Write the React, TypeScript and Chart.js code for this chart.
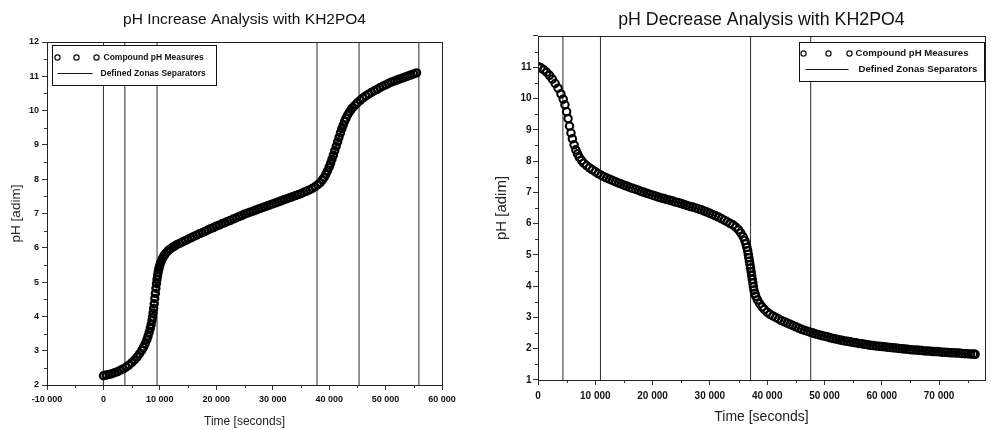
import { useEffect, useRef } from 'react';
import { Chart, registerables } from 'chart.js';

Chart.register(...registerables);

// ---------- data: pH increase (left) ----------
const incTime = [
  0, 500, 1000, 1500, 2000, 2500, 3000, 3500, 4000, 4500, 5000, 5500, 6000, 6400, 6800, 7100, 7400, 7700, 7900, 8100,
  8300, 8450, 8600, 8700, 8800, 8900, 9000, 9100, 9200, 9300, 9400, 9500, 9600, 9700, 9800, 9900, 10000, 10150, 10300, 10500,
  10700, 10900, 11200, 11500, 11800, 12200, 12600, 13000, 13500, 14000, 14500, 15000, 15500, 16000, 16500, 17000, 17500, 18000, 18500, 19000,
  19500, 20000, 20500, 21000, 21500, 22000, 22500, 23000, 23500, 24000, 24500, 25000, 25500, 26000, 26500, 27000, 27500, 28000, 28500, 29000,
  29500, 30000, 30500, 31000, 31500, 32000, 32500, 33000, 33500, 34000, 34500, 35000, 35500, 36000, 36500, 37000, 37500, 38000, 38400, 38800,
  39100, 39400, 39700, 40000, 40250, 40500, 40750, 41000, 41250, 41500, 41750, 42000, 42250, 42500, 42750, 43000, 43300, 43600, 43900, 44200,
  44600, 45000, 45500, 46000, 46500, 47000, 47500, 48000, 48500, 49000, 49500, 50000, 50500, 51000, 51500, 52000, 52500, 53000, 53500, 54000,
  54500, 55000, 55500,
];
const incPH = [
  2.27, 2.29, 2.31, 2.33, 2.36, 2.39, 2.43, 2.47, 2.52, 2.58, 2.65, 2.73, 2.82, 2.91, 3.01, 3.10, 3.20, 3.32, 3.42, 3.53,
  3.65, 3.76, 3.88, 3.98, 4.10, 4.23, 4.37, 4.52, 4.67, 4.82, 4.96, 5.08, 5.19, 5.29, 5.37, 5.44, 5.50, 5.57, 5.63, 5.70,
  5.76, 5.81, 5.87, 5.92, 5.96, 6.01, 6.05, 6.09, 6.13, 6.17, 6.21, 6.25, 6.29, 6.33, 6.37, 6.41, 6.44, 6.48, 6.52, 6.56,
  6.59, 6.63, 6.66, 6.70, 6.73, 6.77, 6.80, 6.84, 6.87, 6.91, 6.94, 6.98, 7.01, 7.04, 7.07, 7.10, 7.13, 7.16, 7.19, 7.22,
  7.25, 7.28, 7.31, 7.34, 7.37, 7.40, 7.43, 7.46, 7.49, 7.52, 7.55, 7.58, 7.62, 7.65, 7.69, 7.73, 7.78, 7.84, 7.90, 7.98,
  8.05, 8.14, 8.24, 8.35, 8.46, 8.58, 8.70, 8.83, 8.96, 9.09, 9.22, 9.35, 9.47, 9.58, 9.69, 9.78, 9.88, 9.96, 10.03, 10.09,
  10.16, 10.23, 10.30, 10.37, 10.43, 10.48, 10.53, 10.58, 10.62, 10.67, 10.71, 10.75, 10.79, 10.83, 10.86, 10.89, 10.92, 10.95, 10.98, 11.01,
  11.04, 11.07, 11.10,
];
const incSeparators = [0, 3800, 9500, 37850, 45300, 55900];
const incXTicks = [-10000, 0, 10000, 20000, 30000, 40000, 50000, 60000];
const incYTicks = [2, 3, 4, 5, 6, 7, 8, 9, 10, 11, 12];

// ---------- data: pH decrease (right) ----------
const decTime = [
  0, 500, 1000, 1500, 2000, 2500, 3000, 3500, 4000, 4400, 4700, 5000, 5250, 5500, 5750, 6000, 6300, 6600, 6900, 7200,
  7600, 8000, 8500, 9000, 9500, 10000, 10500, 11000, 11500, 12000, 12500, 13000, 13500, 14000, 14500, 15000, 15500, 16000, 16500, 17000,
  17500, 18000, 18500, 19000, 19500, 20000, 20500, 21000, 21500, 22000, 22500, 23000, 23500, 24000, 24500, 25000, 25500, 26000, 26500, 27000,
  27500, 28000, 28500, 29000, 29500, 30000, 30500, 31000, 31500, 32000, 32500, 33000, 33500, 34000, 34500, 35000, 35400, 35800, 36100, 36300,
  36450, 36600, 36700, 36800, 36900, 37000, 37100, 37200, 37300, 37400, 37500, 37600, 37700, 37850, 38000, 38300, 38700, 39100, 39500, 40000,
  40500, 41000, 41500, 42000, 42500, 43000, 43500, 44000, 44500, 45000, 45500, 46000, 46500, 47000, 47500, 48000, 48500, 49000, 49500, 50000,
  50500, 51000, 51500, 52000, 52500, 53000, 53500, 54000, 54500, 55000, 55500, 56000, 56500, 57000, 57500, 58000, 58500, 59000, 59500, 60000,
  60500, 61000, 61500, 62000, 62500, 63000, 63500, 64000, 64500, 65000, 65500, 66000, 66500, 67000, 67500, 68000, 68500, 69000, 69500, 70000,
  70500, 71000, 71500, 72000, 72500, 73000, 73500, 74000, 74500, 75000, 75500, 76000, 76300,
];
const decPH = [
  11.02, 10.98, 10.92, 10.84, 10.74, 10.62, 10.48, 10.33, 10.15, 9.98, 9.80, 9.58, 9.36, 9.12, 8.90, 8.71, 8.52, 8.36, 8.23, 8.12,
  8.02, 7.93, 7.85, 7.78, 7.72, 7.66, 7.60, 7.55, 7.50, 7.46, 7.42, 7.38, 7.34, 7.30, 7.27, 7.23, 7.20, 7.16, 7.13, 7.10,
  7.07, 7.03, 7.00, 6.97, 6.94, 6.91, 6.88, 6.85, 6.82, 6.80, 6.77, 6.75, 6.72, 6.69, 6.67, 6.64, 6.61, 6.58, 6.55, 6.53,
  6.50, 6.47, 6.44, 6.40, 6.37, 6.33, 6.29, 6.25, 6.21, 6.16, 6.11, 6.06, 6.01, 5.96, 5.89, 5.80, 5.70, 5.58, 5.46, 5.35,
  5.24, 5.13, 5.02, 4.91, 4.80, 4.69, 4.58, 4.46, 4.34, 4.22, 4.10, 3.98, 3.87, 3.77, 3.68, 3.56, 3.44, 3.34, 3.26, 3.17,
  3.10, 3.05, 3.00, 2.95, 2.90, 2.86, 2.82, 2.78, 2.74, 2.70, 2.66, 2.62, 2.59, 2.56, 2.53, 2.50, 2.47, 2.45, 2.42, 2.40,
  2.38, 2.35, 2.33, 2.31, 2.29, 2.27, 2.25, 2.24, 2.22, 2.20, 2.19, 2.17, 2.16, 2.14, 2.13, 2.11, 2.10, 2.09, 2.08, 2.07,
  2.06, 2.05, 2.04, 2.03, 2.02, 2.01, 2.00, 1.99, 1.98, 1.97, 1.96, 1.96, 1.95, 1.94, 1.93, 1.93, 1.92, 1.91, 1.91, 1.90,
  1.89, 1.89, 1.88, 1.87, 1.87, 1.86, 1.86, 1.85, 1.84, 1.84, 1.83, 1.83, 1.82,
];
const decSeparators = [4350, 10900, 37100, 47600];
const decXTicks = [0, 10000, 20000, 30000, 40000, 50000, 60000, 70000];
const decYTicks = [1, 2, 3, 4, 5, 6, 7, 8, 9, 10, 11, 12];

const seriesLabel = 'Compound pH Measures';
const separatorLabel = 'Defined Zonas Separators';
const yAxisTitle = 'pH [adim]';
const xAxisTitle = 'Time [seconds]';

const FONT = 'Arial, "Liberation Sans", sans-serif';

function fmtThousands(v: number): string {
  const s = Math.abs(Math.round(v)).toString().replace(/\B(?=(\d{3})+(?!\d))/g, ' ');
  return (v < 0 ? '-' : '') + s;
}

type ChartSpec = {
  title: string;
  titleSize: number;
  titlePad: { top: number; bottom: number };
  time: number[];
  ph: number[];
  separators: number[];
  xTicks: number[];
  yTicks: number[];
  xMin: number; xMax: number; yMin: number; yMax: number;
  yLabelHide: number[];
  tickSize: number;
  xTitleSize: number; xTitlePadBottom: number;
  yTitleSize: number; yTitlePadTop: number;
  yWidth: number; xHeight: number;
  padRight: number;
  xTickPad: number; yTickPad: number;
  legend: {
    anchor: 'left' | 'right'; dx: number; dy: number; w: number; h: number;
    row1: number; row2: number; circles: number[]; text1: number; line: [number, number]; text2: number; font: number;
  };
  pointRadius: number;
  pointBorder: number;
};

function makeFramePlugin(spec: ChartSpec) {
  return {
    id: 'frameLegend',
    afterDraw(chart: any) {
      const { ctx, chartArea: a, scales } = chart;
      ctx.save();
      // frame around the plot area
      ctx.strokeStyle = '#222';
      ctx.lineWidth = 1;
      ctx.strokeRect(Math.round(a.left) + 0.5, Math.round(a.top) + 0.5, Math.round(a.right - a.left), Math.round(a.bottom - a.top));
      // minor ticks halfway between major ticks
      ctx.strokeStyle = '#333';
      const xs = scales.x;
      const xt = spec.xTicks;
      const xst = xt[1] - xt[0];
      for (let v = xt[0] - xst / 2; v <= xs.max; v += xst) {
        if (v < xs.min) continue;
        const px = Math.round(xs.getPixelForValue(v)) + 0.5;
        ctx.beginPath(); ctx.moveTo(px, a.bottom); ctx.lineTo(px, a.bottom + 3); ctx.stroke();
      }
      const ys = scales.y;
      const yt = spec.yTicks;
      const yst = yt[1] - yt[0];
      for (let v = yt[0] - yst / 2; v <= ys.max; v += yst) {
        if (v < ys.min) continue;
        const py = Math.round(ys.getPixelForValue(v)) + 0.5;
        ctx.beginPath(); ctx.moveTo(a.left - 3, py); ctx.lineTo(a.left, py); ctx.stroke();
      }
      // legend box
      const L = spec.legend;
      const bx = Math.round(L.anchor === 'left' ? a.left + L.dx : a.right - L.dx - L.w) + 0.5;
      const by = Math.round(a.top + L.dy) + 0.5;
      ctx.fillStyle = '#fff';
      ctx.fillRect(bx, by, L.w, L.h);
      ctx.strokeStyle = '#111';
      ctx.strokeRect(bx, by, L.w, L.h);
      ctx.lineWidth = 1.2;
      for (const cx of L.circles) {
        ctx.beginPath();
        ctx.arc(bx + cx, by + L.row1, 2.6, 0, Math.PI * 2);
        ctx.stroke();
      }
      ctx.lineWidth = 1;
      ctx.beginPath();
      ctx.moveTo(bx + L.line[0], by + L.row2);
      ctx.lineTo(bx + L.line[1], by + L.row2);
      ctx.stroke();
      ctx.fillStyle = '#111';
      ctx.font = `bold ${L.font}px ${FONT}`;
      ctx.textBaseline = 'middle';
      ctx.textAlign = 'left';
      ctx.fillText(seriesLabel, bx + L.text1, by + L.row1);
      ctx.fillText(separatorLabel, bx + L.text2, by + L.row2);
      ctx.restore();
    },
  };
}

function buildChart(canvas: HTMLCanvasElement, spec: ChartSpec) {
  const points = spec.time.map((t, i) => ({ x: t, y: spec.ph[i] }));
  const sepSets = spec.separators.map((s) => ({
    label: separatorLabel,
    data: [{ x: s, y: spec.yMin }, { x: s, y: spec.yMax }],
    showLine: true,
    borderColor: '#2b2b2b',
    borderWidth: 1,
    pointRadius: 0,
    order: 2,
  }));
  return new Chart(canvas, {
    type: 'scatter',
    data: {
      datasets: [
        {
          label: seriesLabel,
          data: points,
          showLine: false,
          pointStyle: 'circle',
          pointRadius: spec.pointRadius,
          pointBorderWidth: spec.pointBorder,
          pointBorderColor: '#000',
          pointBackgroundColor: 'rgba(255,255,255,0)',
          order: 1,
        },
        ...sepSets,
      ] as any,
    },
    options: {
      animation: false,
      responsive: false,
      devicePixelRatio: 1,
      events: [],
      layout: { padding: { left: 0, right: spec.padRight, top: 0, bottom: 0 } },
      plugins: {
        legend: { display: false },
        tooltip: { enabled: false },
        title: {
          display: true,
          text: spec.title,
          fullSize: false,
          color: '#111',
          font: { family: FONT, size: spec.titleSize, weight: 'normal' },
          padding: spec.titlePad,
        },
      },
      scales: {
        x: {
          type: 'linear',
          position: 'bottom',
          min: spec.xMin,
          max: spec.xMax,
          afterBuildTicks: (s: any) => {
            s.ticks = spec.xTicks.map((v) => ({ value: v }));
          },
          afterFit: (s: any) => { s.height = spec.xHeight; },
          ticks: {
            autoSkip: false,
            maxRotation: 0,
            padding: spec.xTickPad,
            color: '#111',
            font: { family: FONT, size: spec.tickSize, weight: 'bold' },
            callback: (v: any) => fmtThousands(Number(v)),
          },
          grid: { display: true, drawOnChartArea: false, drawTicks: true, tickLength: 5, color: '#333' },
          border: { display: false },
          title: {
            display: true,
            text: xAxisTitle,
            color: '#222',
            font: { family: FONT, size: spec.xTitleSize },
            padding: { top: 0, bottom: spec.xTitlePadBottom },
          },
        },
        y: {
          type: 'linear',
          min: spec.yMin,
          max: spec.yMax,
          afterBuildTicks: (s: any) => {
            s.ticks = spec.yTicks.map((v) => ({ value: v }));
          },
          afterFit: (s: any) => { s.width = spec.yWidth; },
          ticks: {
            autoSkip: false,
            padding: spec.yTickPad,
            color: '#111',
            font: { family: FONT, size: spec.tickSize, weight: 'bold' },
            callback: (v: any) => (spec.yLabelHide.includes(Number(v)) ? '' : String(v)),
          },
          grid: { display: true, drawOnChartArea: false, drawTicks: true, tickLength: 5, color: '#333' },
          border: { display: false },
          title: {
            display: true,
            text: yAxisTitle,
            color: '#222',
            font: { family: FONT, size: spec.yTitleSize },
            padding: { top: spec.yTitlePadTop, bottom: 0 },
          },
        },
      },
    } as any,
    plugins: [makeFramePlugin(spec)],
  });
}

const leftSpec: ChartSpec = {
  title: 'pH Increase Analysis with KH2PO4',
  titleSize: 15.5,
  titlePad: { top: 10, bottom: 13.4 },
  time: incTime,
  ph: incPH,
  separators: incSeparators,
  xTicks: incXTicks,
  yTicks: incYTicks,
  xMin: -10000, xMax: 60000, yMin: 2, yMax: 12,
  yLabelHide: [],
  tickSize: 9,
  xTitleSize: 12, xTitlePadBottom: 0.8,
  yTitleSize: 13.5, yTitlePadTop: 8,
  yWidth: 47, xHeight: 45,
  padRight: 48,
  xTickPad: 4.5, yTickPad: 3,
  legend: {
    anchor: 'left', dx: 5, dy: 3, w: 164, h: 40,
    row1: 12, row2: 28, circles: [5, 24, 44], text1: 51, line: [5, 40], text2: 48, font: 8.5,
  },
  pointRadius: 3.5,
  pointBorder: 2.4,
};

const rightSpec: ChartSpec = {
  title: 'pH Decrease Analysis with KH2PO4',
  titleSize: 17.8,
  titlePad: { top: 9.3, bottom: 5.3 },
  time: decTime,
  ph: decPH,
  separators: decSeparators,
  xTicks: decXTicks,
  yTicks: decYTicks,
  xMin: 0, xMax: 78000, yMin: 1, yMax: 12,
  yLabelHide: [12],
  tickSize: 10,
  xTitleSize: 14, xTitlePadBottom: 4.6,
  yTitleSize: 15, yTitlePadTop: 2,
  yWidth: 47, xHeight: 50,
  padRight: 6,
  xTickPad: 5, yTickPad: 1.5,
  legend: {
    anchor: 'right', dx: 1, dy: 6, w: 185, h: 39,
    row1: 11, row2: 27, circles: [4, 29, 50], text1: 56, line: [6, 49], text2: 59, font: 9.6,
  },
  pointRadius: 3.7,
  pointBorder: 2.1,
};

export default function App() {
  const leftRef = useRef<HTMLCanvasElement | null>(null);
  const rightRef = useRef<HTMLCanvasElement | null>(null);

  useEffect(() => {
    const c1 = buildChart(leftRef.current as HTMLCanvasElement, leftSpec);
    const c2 = buildChart(rightRef.current as HTMLCanvasElement, rightSpec);
    return () => {
      c1.destroy();
      c2.destroy();
    };
  }, []);

  return (
    <div style={{ position: 'fixed', left: 0, top: 0, width: 991, height: 430, background: '#fff', overflow: 'hidden' }}>
      <canvas ref={leftRef} width={490} height={430} style={{ position: 'absolute', left: 0, top: 0, width: 490, height: 430 }} />
      <canvas ref={rightRef} width={500} height={430} style={{ position: 'absolute', left: 491, top: 0, width: 500, height: 430 }} />
    </div>
  );
}
